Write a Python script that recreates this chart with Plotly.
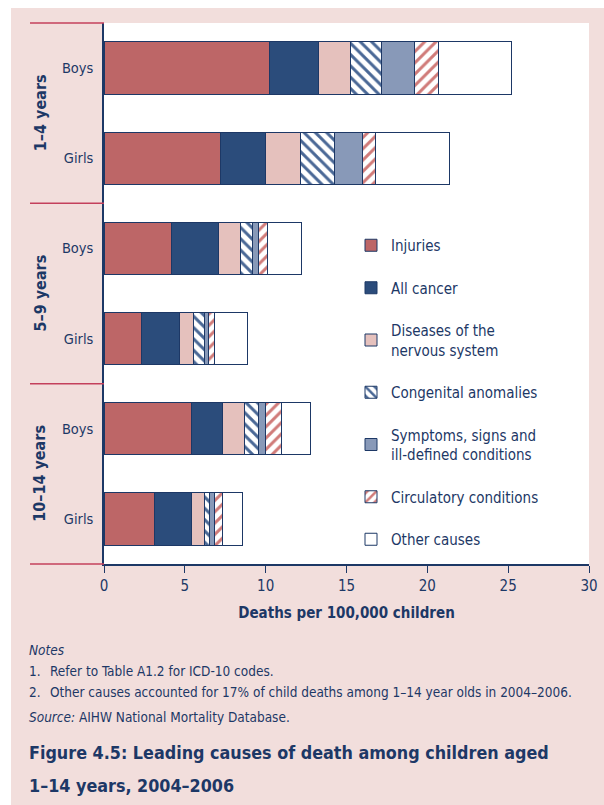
import plotly.graph_objects as go

# ---- data (deaths per 100,000 children) ----
categories = ["Boys 1–4", "Girls 1–4", "Boys 5–9", "Girls 5–9", "Boys 10–14", "Girls 10–14"]
tick_labels = ["Boys", "Girls", "Boys", "Girls", "Boys", "Girls"]
age_groups = ["1–4 years", "5–9 years", "10–14 years"]

injuries = [10.26, 7.20, 4.17, 2.34, 5.39, 3.10]
all_cancer = [3.02, 2.77, 2.89, 2.33, 1.96, 2.31]
nervous = [1.94, 2.19, 1.36, 0.89, 1.33, 0.79]
congenital = [1.95, 2.10, 0.79, 0.64, 0.86, 0.31]
symptoms = [2.05, 1.72, 0.33, 0.26, 0.48, 0.33]
circulatory = [1.46, 0.83, 0.60, 0.36, 0.93, 0.48]
other = [4.55, 4.54, 2.07, 2.08, 1.83, 1.24]

series_names = ["Injuries", "All cancer", "Diseases of the<br>nervous system",
                "Congenital anomalies", "Symptoms, signs and<br>ill-defined conditions",
                "Circulatory conditions", "Other causes"]
series_values = [injuries, all_cancer, nervous, congenital, symptoms, circulatory, other]

NAVY = "#1d3866"
PINK_BG = "#f2dedc"
RED_LINE = "#c4405c"
FONT = "DejaVu Sans Condensed, Liberation Sans Narrow, Arial Narrow, sans-serif"

styles = [
    dict(color="#bd6667"),
    dict(color="#2b4c7b"),
    dict(color="#e5c1bd"),
    dict(color="white", pattern=dict(shape="\\", fgcolor="#4a6896", bgcolor="white",
                                     size=8, solidity=0.38, fillmode="replace")),
    dict(color="#8899b8"),
    dict(color="white", pattern=dict(shape="/", fgcolor="#d07b79", bgcolor="white",
                                     size=8, solidity=0.38, fillmode="replace")),
    dict(color="white"),
]

# page geometry (body margin is removed, so figure pixels == page pixels)
W, H = 604, 805
PX0, PX1, PY0, PY1 = 104, 589, 23, 564          # plot area in page pixels
PW, PH = PX1 - PX0, PY1 - PY0
L, R, T, B = PX0, W - PX1, PY0, H - PY1


def px_x(px):
    return (px - PX0) / PW


def px_y(py):
    return (PY1 - py) / PH


fig = go.Figure()
for i, (name, vals, st) in enumerate(zip(series_names, series_values, styles)):
    marker = dict(line=dict(color=NAVY, width=1))
    marker.update(st)
    fig.add_trace(go.Bar(
        name=name, y=categories, x=vals, orientation="h",
        marker=marker, legendgroup=f"g{i}",
    ))

shapes = [
    # pink frame background
    dict(type="rect", xref="paper", yref="paper", x0=px_x(11), x1=px_x(620),
         y0=px_y(820), y1=px_y(8), fillcolor=PINK_BG, line=dict(width=0), layer="below"),
    # white plot area
    dict(type="rect", xref="paper", yref="paper", x0=0, x1=1, y0=0, y1=1,
         fillcolor="white", line=dict(width=0), layer="below"),
]
for k in range(4):
    yy = 1 - k / 3
    shapes.append(dict(type="line", xref="paper", yref="paper", x0=px_x(30), x1=0,
                       y0=yy, y1=yy, line=dict(color=RED_LINE, width=1.5)))

annotations = []
for k, g in enumerate(age_groups):
    annotations.append(dict(text=f"<b>{g}</b>", xref="paper", yref="paper",
                            x=px_x(40), y=1 - (k + 0.5) / 3, showarrow=False,
                            textangle=-90, font=dict(family=FONT, size=16, color=NAVY),
                            xanchor="center", yanchor="middle"))

note_font = dict(family=FONT, size=13.5, color=NAVY)
notes = [
    (27, 650, "<i>Notes</i>"),
    (27, 671, "1."),
    (48, 671, "Refer to Table A1.2 for ICD-10 codes."),
    (27, 692, "2."),
    (48, 692, "Other causes accounted for 17% of child deaths among 1–14 year olds in 2004–2006."),
    (27, 717, "<i>Source:</i> AIHW National Mortality Database."),
]
for x, y, t in notes:
    annotations.append(dict(text=t, xref="paper", yref="paper", x=px_x(x), y=px_y(y),
                            showarrow=False, xanchor="left", yanchor="middle", font=note_font))

title_font = dict(family=FONT, size=17.8, color=NAVY)
for y, t in [(752, "<b>Figure 4.5: Leading causes of death among children aged</b>"),
             (786, "<b>1–14 years, 2004–2006</b>")]:
    annotations.append(dict(text=t, xref="paper", yref="paper", x=px_x(27), y=px_y(y),
                            showarrow=False, xanchor="left", yanchor="middle", font=title_font))

fig.update_layout(
    width=W, height=H,
    margin=dict(l=L, r=R, t=T, b=B, pad=0),
    paper_bgcolor="white", plot_bgcolor="white",
    barmode="stack", bargap=0.42,
    font=dict(family=FONT, size=15, color=NAVY),
    shapes=shapes, annotations=annotations,
    showlegend=True,
    legend=dict(x=px_x(351), y=px_y(229), xanchor="left", yanchor="top",
                traceorder="grouped", tracegroupgap=20, bgcolor="rgba(0,0,0,0)",
                font=dict(family=FONT, size=15, color=NAVY), itemclick=False),
    xaxis=dict(range=[0, 30], dtick=5, tick0=0, showgrid=False, zeroline=False,
               automargin=False, ticklabeloverflow="allow",
               showline=True, linecolor=NAVY, linewidth=1.5,
               ticks="outside", ticklen=7, tickcolor=NAVY, tickwidth=1,
               tickfont=dict(family=FONT, size=15, color=NAVY),
               title=dict(text="<b>Deaths per 100,000 children</b>", standoff=14,
                          font=dict(family=FONT, size=15, color=NAVY))),
    yaxis=dict(type="category", categoryorder="array", categoryarray=categories,
               autorange="reversed", tickvals=categories, ticktext=tick_labels,
               automargin=False,
               showgrid=False, zeroline=False, showline=True, linecolor=NAVY, linewidth=1.5,
               ticks="", ticklabelstandoff=6,
               tickfont=dict(family=FONT, size=14.5, color=NAVY)),
)

fig.write_html(
    "out.html",
    config={"displayModeBar": False},
    post_script="document.body.style.margin='0';document.body.style.overflow='hidden';",
)
